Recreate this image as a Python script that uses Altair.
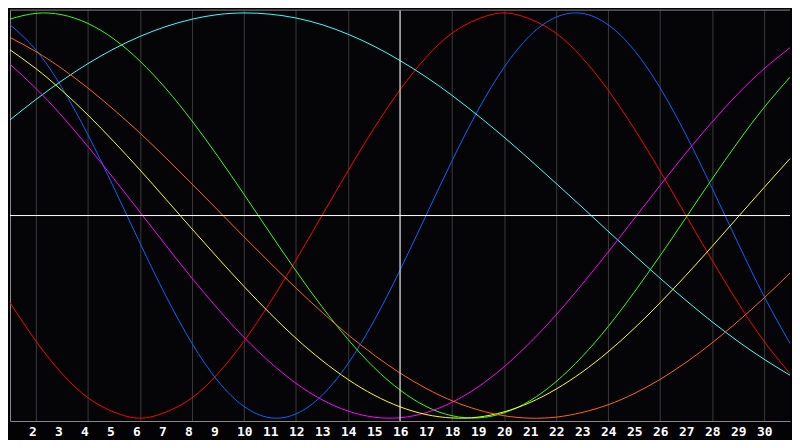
"""Biorhythm-style chart: seven cycles over a 31 day month."""

import altair as alt
import pandas as pd

days = list(range(1, 32))
tick_days = list(range(2, 31))

# values, one per day
red = [-0.43, -0.62, -0.78, -0.90, -0.97, -1.00, -0.97, -0.90, -0.78, -0.62,
       -0.43, -0.22, 0.00, 0.22, 0.43, 0.62, 0.78, 0.90, 0.97, 1.00,
       0.97, 0.90, 0.78, 0.62, 0.43, 0.22, 0.00, -0.22, -0.43, -0.62, -0.78]
blue = [0.942, 0.817, 0.631, 0.398, 0.136, -0.136, -0.398, -0.631, -0.817, -0.942,
        -0.998, -0.979, -0.888, -0.731, -0.520, -0.270, 0.000, 0.270, 0.520, 0.731,
        0.888, 0.979, 0.998, 0.942, 0.817, 0.631, 0.398, 0.136, -0.136, -0.398, -0.631]
green = [0.970, 0.998, 0.991, 0.948, 0.871, 0.762, 0.626, 0.467, 0.291, 0.105,
         -0.086, -0.273, -0.450, -0.611, -0.750, -0.861, -0.942, -0.988, -0.999, -0.974,
         -0.914, -0.820, -0.697, -0.549, -0.380, -0.199, -0.010, 0.180, 0.363, 0.533, 0.683]
cyan = [0.472, 0.573, 0.666, 0.750, 0.823, 0.884, 0.933, 0.969, 0.992, 1.000,
        0.994, 0.975, 0.942, 0.895, 0.836, 0.765, 0.684, 0.593, 0.493, 0.387,
        0.275, 0.159, 0.042, -0.077, -0.194, -0.309, -0.419, -0.524, -0.621, -0.709, -0.788]
magenta = [0.747, 0.627, 0.491, 0.340, 0.181, 0.017, -0.148, -0.309, -0.461, -0.601,
           -0.724, -0.828, -0.909, -0.965, -0.995, -0.998, -0.973, -0.922, -0.846, -0.747,
           -0.627, -0.491, -0.340, -0.181, -0.017, 0.148, 0.309, 0.461, 0.601, 0.724, 0.828]
yellow = [0.818, 0.725, 0.617, 0.496, 0.364, 0.225, 0.080, -0.066, -0.210, -0.350,
          -0.483, -0.606, -0.715, -0.809, -0.886, -0.944, -0.982, -0.999, -0.995, -0.969,
          -0.923, -0.857, -0.773, -0.673, -0.558, -0.431, -0.295, -0.153, -0.007, 0.138, 0.281]
orange = [0.879, 0.809, 0.725, 0.629, 0.522, 0.407, 0.284, 0.156, 0.026, -0.105,
          -0.233, -0.358, -0.477, -0.588, -0.688, -0.777, -0.853, -0.914, -0.959, -0.988,
          -1.000, -0.995, -0.972, -0.934, -0.879, -0.809, -0.725, -0.629, -0.522, -0.407, -0.284]

curves = {
    "red": (red, "#ff0000"),
    "blue": (blue, "#0066ff"),
    "green": (green, "#33ff00"),
    "cyan": (cyan, "#33ffff"),
    "magenta": (magenta, "#ff00ff"),
    "yellow": (yellow, "#ffff00"),
    "orange": (orange, "#ff6600"),
}

rows = []
for name, (values, _) in curves.items():
    for d, v in zip(days, values):
        rows.append({"day": d, "value": v, "curve": name})
df = pd.DataFrame(rows)

plot_h = 413
top = 1.014
x_scale = alt.Scale(domain=[1, 31], nice=False)
y_scale = alt.Scale(domain=[-top, top], nice=False, zero=False)

lines = alt.Chart(df).mark_line(strokeWidth=1, interpolate="natural").encode(
    x=alt.X("day:Q", scale=x_scale, axis=alt.Axis(
        values=tick_days, title=None, grid=True, gridColor="#3a3a3a",
        ticks=False, labels=False, domainColor="#8a8a8a")),
    y=alt.Y("value:Q", scale=y_scale, axis=alt.Axis(
        title=None, labels=False, ticks=False, grid=False, domainColor="#8a8a8a")),
    color=alt.Color("curve:N", legend=None, scale=alt.Scale(
        domain=list(curves.keys()), range=[c for _, c in curves.values()])),
)

# day numbers under the grid lines, all of them shown
day_labels = alt.Chart(pd.DataFrame({"day": tick_days})).mark_text(
    align="left", baseline="middle", dx=-7, color="white",
    font="DejaVu Sans Mono", fontWeight="bold", fontSize=13
).encode(
    x=alt.X("day:Q", scale=x_scale),
    y=alt.value(plot_h + 11),
    text=alt.Text("day:Q"),
)

mid_day = alt.Chart(pd.DataFrame({"day": [16]})).mark_rule(color="white").encode(
    x=alt.X("day:Q", scale=x_scale))
zero_line = alt.Chart(pd.DataFrame({"value": [0]})).mark_rule(color="white").encode(
    y=alt.Y("value:Q", scale=y_scale))
top_edge = alt.Chart(pd.DataFrame({"value": [top]})).mark_rule(color="#8a8a8a").encode(
    y=alt.Y("value:Q", scale=y_scale))

chart = alt.layer(lines, mid_day, zero_line, top_edge, day_labels).properties(
    width=784, height=plot_h, padding=0, background="#030305"
).configure_view(stroke=None, fill="#050508")

chart.save("out.html", embed_options={"renderer": "svg", "actions": False})
